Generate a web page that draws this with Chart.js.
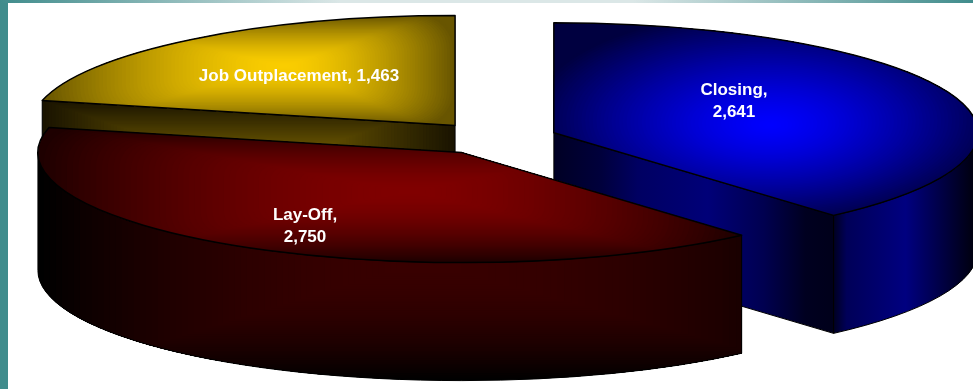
<!DOCTYPE html>
<html>
<head>
<meta charset="utf-8">
<title>Reasons</title>
<style>
  html, body { margin: 0; padding: 0; background: #fff; overflow: hidden; }
  #stage { position: relative; width: 973px; height: 389px; }
  #edgeLeft { position: absolute; left: 0; top: 0; width: 8px; height: 389px; background: #408c8c; }
  #edgeTop {
    position: absolute; left: 0; top: 0; width: 973px; height: 3px;
    background: linear-gradient(to right, #408c8c 0%, #dbe7e7 35%, #dbe7e7 65%, #408c8c 100%);
  }
  canvas { position: absolute; left: 0; top: 0; }
</style>
<script src="https://cdn.jsdelivr.net/npm/chart.js@4/dist/chart.umd.min.js"></script>
</head>
<body>
<div id="stage">
  <div id="edgeLeft"></div>
  <div id="edgeTop"></div>
  <canvas id="chart" width="973" height="389"></canvas>
</div>
<script>
const categories = ['Closing', 'Lay-Off', 'Job Outplacement'];
const counts = [2641, 2750, 1463];

// How each slice is painted, same order as categories
const sliceStyles = [
  {
    base: '#0000ff',
    face: {hot: [0, 0, 255], cold: [0, 0, 64], focus: [770, 125], oval: 1.12, bend: 1.35},
    sideStops: [[0, '#000020'], [0.09, '#000058'], [0.5, '#000080'], [1, '#000008']],
    cutStops: [[0, '#000024'], [0.17, '#00003c'], [0.3, '#000062'], [0.55, '#000078'], [0.75, '#000050'], [0.9, '#000020'], [1, '#00001a']],
  },
  {
    base: '#800000',
    face: {hot: [128, 0, 0], cold: [30, 0, 0], focus: [410, 192], round: 0.5, bend: 1.7},
    side: {hot: [56, 0, 0], cold: [0, 0, 0], focus: [420, 262], right: 860, bend: 2},
  },
  {
    base: '#f8cb00',
    face: {hot: [250, 205, 0], cold: [104, 85, 0], focus: [285, 66], round: 0.6, bend: 1.6},
    cut: {hot: [140, 114, 0], cold: [26, 20, 0], focus: [250, 171]},
  },
];

// Text anchors for the two-line and one-line captions
const captionAnchors = [[734, 90], [305, 215], [299, 76]];
const captionWraps = [true, true, false];

const RADIUS = 424;
const SQUASH = 110 / RADIUS;
const DEPTH = 118;

// Nested shapes from the bounding box inwards, the usual "path" fill of office charts
function fillNested(ctx, box, fill) {
  const [fx, fy] = fill.focus;
  const right = fill.right || box.r;
  const bend = fill.bend || 1;
  const steps = 64;
  ctx.fillStyle = `rgb(${fill.cold.join(',')})`;
  ctx.fillRect(box.l, box.t, box.r - box.l, box.b - box.t);
  for (let i = 0; i <= steps; i++) {
    const t = 1 - i / steps;
    const mix = Math.pow(t, bend);
    const c = fill.cold.map((v, k) => Math.round(fill.hot[k] + (v - fill.hot[k]) * mix));
    ctx.fillStyle = `rgb(${c[0]},${c[1]},${c[2]})`;
    const x0 = fx + (box.l - fx) * t;
    const x1 = fx + (right - fx) * t;
    const y0 = fy + (box.t - fy) * t;
    const y1 = fy + (box.b - fy) * t;
    ctx.beginPath();
    if (fill.oval) {
      ctx.ellipse((x0 + x1) / 2, (y0 + y1) / 2, (x1 - x0) / 2 * fill.oval, (y1 - y0) / 2 * fill.oval, 0, 0, Math.PI * 2);
    } else {
      const corner = Math.min(x1 - x0, y1 - y0) / 2 * (fill.round || 0);
      ctx.roundRect(x0, y0, x1 - x0, y1 - y0, corner);
    }
    ctx.fill();
  }
}

function fillStops(ctx, box, stops) {
  const g = ctx.createLinearGradient(box.l, 0, box.r, 0);
  stops.forEach(([at, color]) => g.addColorStop(at, color));
  ctx.fillStyle = g;
  ctx.fillRect(box.l, box.t, box.r - box.l, box.b - box.t);
}

function paintRegion(ctx, trace, box, fill, stops, lineWidth) {
  const outline = new Path2D();
  trace(outline);
  outline.closePath();
  ctx.save();
  ctx.save();
  ctx.clip(outline);
  if (stops) {
    fillStops(ctx, box, stops);
  } else {
    fillNested(ctx, box, fill);
  }
  ctx.restore();
  ctx.lineWidth = lineWidth;
  ctx.strokeStyle = '#000';
  ctx.lineJoin = 'round';
  ctx.stroke(outline);
  ctx.restore();
}

// Where a slice ends up once pulled out of the pie and tipped back
function sliceGeometry(arc) {
  const mid = (arc.startAngle + arc.endAngle) / 2;
  const pull = arc.options.offset;
  const rx = arc.outerRadius;
  return {
    x: arc.x + Math.cos(mid) * pull,
    y: arc.y + Math.sin(mid) * pull * SQUASH,
    rx,
    ry: rx * SQUASH,
    start: arc.startAngle,
    end: arc.endAngle,
  };
}

function drawSlice(ctx, s, style) {
  const {x, y, rx, ry, start, end} = s;
  const pointAt = (a) => [x + Math.cos(a) * rx, y + Math.sin(a) * ry];

  // Cut faces turned towards the viewer
  const cuts = [];
  if (Math.cos(start) < -1e-6) cuts.push(start);
  if (Math.cos(end) > 1e-6) cuts.push(end);
  cuts.forEach((a) => {
    const [px, py] = pointAt(a);
    const box = {l: Math.min(x, px), r: Math.max(x, px), t: Math.min(y, py), b: Math.max(y, py) + DEPTH};
    paintRegion(ctx, (p) => {
      p.moveTo(x, y);
      p.lineTo(px, py);
      p.lineTo(px, py + DEPTH);
      p.lineTo(x, y + DEPTH);
    }, box, style.cut, style.cutStops, 1);
  });

  // Rim, only the part on the near half of the ellipse
  let from = start;
  let to = Math.min(end, Math.PI);
  if (from < 0) from = 0;
  if (to > from) {
    const [ax] = pointAt(from);
    const [bx] = pointAt(to);
    const left = to >= Math.PI ? x - rx : Math.min(ax, bx);
    const box = {l: left, r: Math.max(ax, bx), t: y, b: y + ry + DEPTH};
    paintRegion(ctx, (p) => {
      p.ellipse(x, y, rx, ry, 0, from, to);
      p.ellipse(x, y + DEPTH, rx, ry, 0, to, from, true);
    }, box, style.side, style.sideStops, 1);
  }

  // Top face
  const xs = [x, pointAt(start)[0], pointAt(end)[0]];
  const ys = [y, pointAt(start)[1], pointAt(end)[1]];
  for (let q = -4; q <= 8; q++) {
    const a = q * Math.PI / 2;
    if (a > start && a < end) {
      xs.push(pointAt(a)[0]);
      ys.push(pointAt(a)[1]);
    }
  }
  const box = {l: Math.min(...xs), r: Math.max(...xs), t: Math.min(...ys), b: Math.max(...ys)};
  paintRegion(ctx, (p) => {
    p.moveTo(x, y);
    p.ellipse(x, y, rx, ry, 0, start, end);
  }, box, style.face, null, 1.5);
}

const pie3d = {
  id: 'pie3d',
  beforeDatasetsDraw(chart) {
    const ctx = chart.ctx;
    const arcs = chart.getDatasetMeta(0).data;
    const slices = arcs.map((arc, i) => ({i, geo: sliceGeometry(arc)}));

    // back to front
    slices.sort((a, b) => a.geo.y - b.geo.y);
    slices.forEach(({i, geo}) => drawSlice(ctx, geo, sliceStyles[i]));

    ctx.save();
    ctx.fillStyle = '#fff';
    ctx.font = 'bold 17px "Liberation Sans", Arial, sans-serif';
    ctx.textAlign = 'center';
    ctx.textBaseline = 'middle';
    categories.forEach((name, i) => {
      const value = counts[i].toLocaleString('en-US');
      const [tx, ty] = captionAnchors[i];
      if (captionWraps[i]) {
        ctx.fillText(name + ',', tx, ty);
        ctx.fillText(value, tx, ty + 22);
      } else {
        ctx.fillText(name + ', ' + value, tx, ty);
      }
    });
    ctx.restore();
    return false;
  },
};

new Chart(document.getElementById('chart'), {
  type: 'pie',
  data: {
    labels: categories,
    datasets: [{
      data: counts,
      backgroundColor: sliceStyles.map((s) => s.base),
      offset: 63.4,
    }],
  },
  options: {
    responsive: false,
    animation: false,
    radius: RADIUS,
    layout: {padding: {left: 16, bottom: 112}},
    plugins: {legend: {display: false}, tooltip: {enabled: false}},
  },
  plugins: [pie3d],
});
</script>
</body>
</html>
